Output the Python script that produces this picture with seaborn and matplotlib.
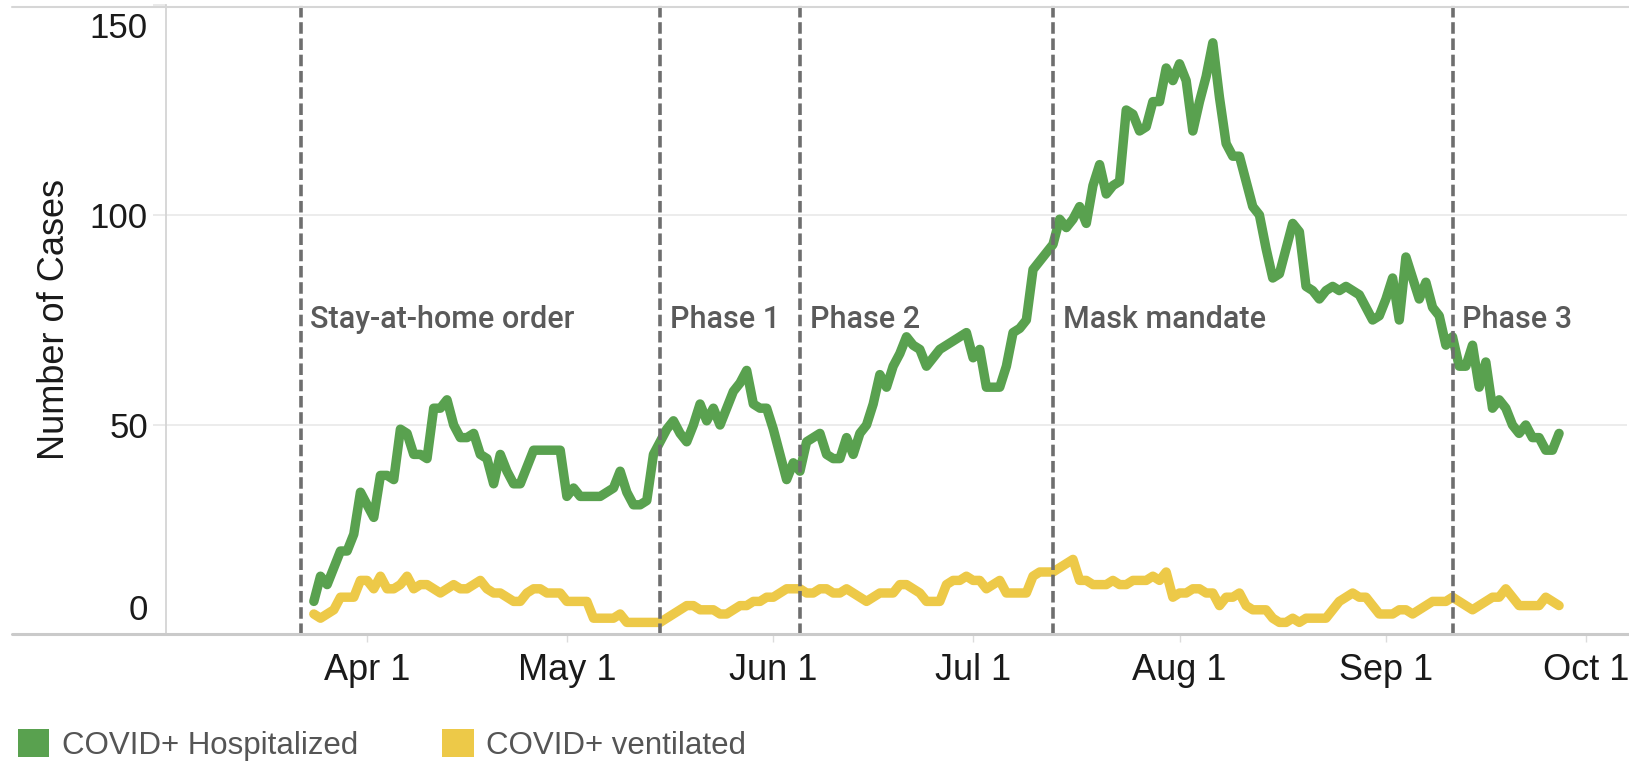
"""COVID+ hospitalized / ventilated daily counts with policy milestones."""

import matplotlib
matplotlib.use("Agg")
import matplotlib.pyplot as plt
import matplotlib.dates as mdates
from matplotlib.lines import Line2D
from matplotlib.patches import Patch
from matplotlib.transforms import ScaledTranslation
import numpy as np
import pandas as pd
import seaborn as sns

# data (daily, starting Mar 24 2020)
start_date = "2020-03-24"
hospitalized = [
    8, 14, 12, 16, 20, 20, 24, 34, 31, 28,
    38, 38, 37, 49, 48, 43, 43, 42, 54, 54,
    56, 50, 47, 47, 48, 43, 42, 36, 43, 39,
    36, 36, 40, 44, 44, 44, 44, 44, 33, 35,
    33, 33, 33, 33, 34, 35, 39, 34, 31, 31,
    32, 43, 46, 49, 51, 48, 46, 50, 55, 51,
    54, 50, 54, 58, 60, 63, 55, 54, 54, 49,
    43, 37, 41, 39, 46, 47, 48, 43, 42, 42,
    47, 43, 48, 50, 55, 62, 59, 64, 67, 71,
    69, 68, 64, 66, 68, 69, 70, 71, 72, 66,
    68, 59, 59, 59, 64, 72, 73, 75, 87, 89,
    91, 93, 99, 97, 99, 102, 98, 107, 112, 105,
    107, 108, 125, 124, 120, 121, 127, 127, 135, 132,
    136, 132, 120, 127, 133, 141, 128, 117, 114, 114,
    108, 102, 100, 92, 85, 86, 92, 98, 96, 83,
    82, 80, 82, 83, 82, 83, 82, 81, 78, 75,
    76, 80, 85, 75, 90, 85, 80, 84, 78, 76,
    69, 71, 64, 64, 69, 59, 65, 54, 56, 54,
    50, 48, 50, 47, 47, 44, 44, 48,
]
ventilated = [
    5, 4, 5, 6, 9, 9, 9, 13, 13, 11,
    14, 11, 11, 12, 14, 11, 12, 12, 11, 10,
    11, 12, 11, 11, 12, 13, 11, 10, 10, 9,
    8, 8, 10, 11, 11, 10, 10, 10, 8, 8,
    8, 8, 4, 4, 4, 4, 5, 3, 3, 3,
    3, 3, 3, 4, 5, 6, 7, 7, 6, 6,
    6, 5, 5, 6, 7, 7, 8, 8, 9, 9,
    10, 11, 11, 11, 10, 10, 11, 11, 10, 10,
    11, 10, 9, 8, 9, 10, 10, 10, 12, 12,
    11, 10, 8, 8, 8, 12, 13, 13, 14, 13,
    13, 11, 12, 13, 10, 10, 10, 10, 14, 15,
    15, 15, 16, 17, 18, 13, 13, 12, 12, 12,
    13, 12, 12, 13, 13, 13, 14, 13, 15, 9,
    10, 10, 11, 11, 10, 10, 7, 9, 9, 10,
    7, 6, 6, 6, 4, 3, 3, 4, 3, 4,
    4, 4, 4, 6, 8, 9, 10, 9, 9, 7,
    5, 5, 5, 6, 6, 5, 6, 7, 8, 8,
    8, 9, 8, 7, 6, 7, 8, 9, 9, 11,
    9, 7, 7, 7, 7, 9, 8, 7,
]
series_names = ["COVID+ Hospitalized", "COVID+ ventilated"]
series_colors = ["#59A14F", "#EDC948"]

event_dates = ["2020-03-22", "2020-05-15", "2020-06-05", "2020-07-13", "2020-09-11"]
event_labels = ["Stay-at-home order", "Phase 1", "Phase 2", "Mask mandate", "Phase 3"]
y_ticks = [0, 50, 100, 150]

W, H = 1629, 764

dates = pd.date_range(start_date, periods=len(hospitalized), freq="D")
df = pd.DataFrame({
    "date": np.concatenate([dates, dates]),
    "series": np.repeat(series_names, len(dates)),
    "cases": hospitalized + ventilated,
})

sns.set_theme(style="white")
plt.rcParams["font.family"] = ["Liberation Sans", "DejaVu Sans"]

fig = plt.figure(figsize=(W / 100, H / 100), dpi=100)
ax = fig.add_axes([166 / W, 1 - 635 / H, (1627 - 166) / W, 630 / H])

sns.lineplot(data=df, x="date", y="cases", hue="series", hue_order=series_names,
             palette=series_colors, linewidth=6.8, legend=False, ax=ax,
             solid_capstyle="round", solid_joinstyle="round", zorder=3)

# milestone lines and labels
for d, lab in zip(event_dates, event_labels):
    ax.axvline(pd.Timestamp(d), color="#6e6e6e", lw=2.6, ls=(0, (3.2, 1.3)), zorder=4)
    ax.annotate(lab, xy=(pd.Timestamp(d), 75), xytext=(7, 0), textcoords="offset points",
                ha="left", va="center", fontsize=22, color="#5a5a5a",
                fontfamily=["Roboto", "DejaVu Sans"], fontweight="medium")

ax.set_ylim(0, 150)
ax.set_xlim(pd.Timestamp("2020-04-01") - pd.Timedelta(days=30.2),
            pd.Timestamp("2020-04-01") + pd.Timedelta(days=189.2))

ax.set_yticks(y_ticks)
ax.set_yticklabels([str(t) for t in y_ticks])
ax.xaxis.set_major_locator(mdates.MonthLocator(bymonthday=1))
ax.xaxis.set_major_formatter(mdates.DateFormatter("%b %-d"))

ax.tick_params(axis="y", labelsize=25, length=9.4, width=1.2, color="#e6e6e6",
               pad=3.6, labelcolor="#1a1a1a", left=True)
ax.tick_params(axis="x", labelsize=26, length=5, width=1, color="#dcdcdc",
               pad=8, labelcolor="#1a1a1a", bottom=True)

# Tableau keeps the end labels inside the pane
labels = ax.get_yticklabels()
labels[0].set_verticalalignment("bottom")
labels[0].set_transform(labels[0].get_transform() + ScaledTranslation(0, 6 / 72, fig.dpi_scale_trans))
labels[-1].set_verticalalignment("top")
labels[-1].set_transform(labels[-1].get_transform() + ScaledTranslation(0, -5 / 72, fig.dpi_scale_trans))

for y in (50, 100):
    ax.axhline(y, color="#ebebeb", lw=1.3, zorder=0)

ax.set_xlabel("")
ax.set_ylabel("Number of Cases", fontsize=26, color="#1a1a1a")
ax.yaxis.set_label_coords((72 - 166) / 1461, 0.5)

for side in ("top", "right", "bottom"):
    ax.spines[side].set_visible(False)
ax.spines["left"].set_color("#d4d4d4")
ax.spines["left"].set_linewidth(1.3)

# pane borders spanning the full width
fig.add_artist(Line2D([12 / W, 1], [1 - 7 / H] * 2, transform=fig.transFigure,
                      color="#d6d6d6", lw=1.5))
fig.add_artist(Line2D([12 / W, 1], [1 - 634 / H] * 2, transform=fig.transFigure,
                      color="#cacaca", lw=2.2))

handles = [Patch(facecolor=c, edgecolor="none") for c in series_colors]
fig.legend(handles, series_names, loc="center left", bbox_to_anchor=(18 / W, 1 - 745 / H),
           ncol=2, frameon=False, fontsize=22.5, handlelength=1.0, handleheight=1.0,
           handletextpad=0.4, columnspacing=2.7, borderpad=0, borderaxespad=0,
           labelcolor="#555555")

fig.savefig("out.png", dpi=100)
